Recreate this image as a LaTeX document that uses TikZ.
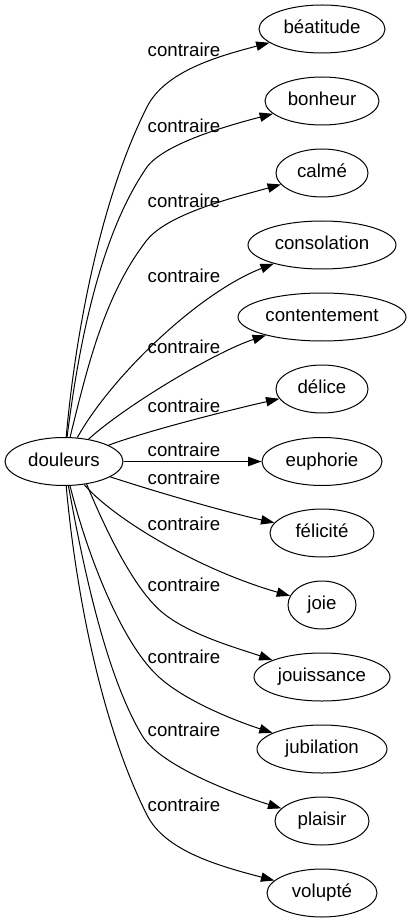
\documentclass[tikz,border=0pt]{standalone}
\usepackage{fontspec}
\setmainfont{Liberation Sans}
\usetikzlibrary{arrows.meta,shapes.geometric}
\tikzset{
  word/.style={draw=black, line width=0.75pt, ellipse, inner sep=0pt, minimum height=36pt,
    font=\fontsize{14pt}{16pt}\selectfont, text height=10.1pt, text depth=2.9pt},
  lbl/.style={inner sep=0pt, font=\fontsize{14pt}{16pt}\selectfont},
  edge/.style={draw=black, line width=0.75pt, -{Triangle[length=10pt,width=7pt]}}
}
\begin{document}
\begin{tikzpicture}[x=0.75pt, y=-0.75pt]
\useasboundingbox (0,0) rectangle (411,923);
\node[word, minimum width=88.5pt] (douleurs) at (64,461.5) {douleurs};
\node[word, minimum width=94.5pt] (beatitude) at (322,29) {béatitude};
\node[word, minimum width=85.5pt] (bonheur) at (322,101) {bonheur};
\node[word, minimum width=69pt] (calme) at (322,173) {calmé};
\node[word, minimum width=111pt] (consolation) at (322,245) {consolation};
\node[word, minimum width=126pt] (contentement) at (322,317) {contentement};
\node[word, minimum width=69pt] (delice) at (322,389) {délice};
\node[word, minimum width=90pt] (euphorie) at (322,461.5) {euphorie};
\node[word, minimum width=78pt] (felicite) at (322,533) {félicité};
\node[word, minimum width=51pt] (joie) at (322,605) {joie};
\node[word, minimum width=102pt] (jouissance) at (322,677) {jouissance};
\node[word, minimum width=97.5pt] (jubilation) at (322,749) {jubilation};
\node[word, minimum width=70.5pt] (plaisir) at (322,821) {plaisir};
\node[word, minimum width=82.5pt] (volupte) at (322,893) {volupté};

\draw[edge] (douleurs) .. controls (76,327) and (102,196) .. (147,107) .. controls (165,71) and (219,56) .. (beatitude);
\draw[edge] (douleurs) .. controls (79,343) and (100,235) .. (147,167) .. controls (165,143) and (230,125) .. (bonheur);
\draw[edge] (douleurs) .. controls (87,369) and (104,295) .. (147,240) .. controls (169,213) and (236,197) .. (calme);
\draw[edge] (douleurs) .. controls (111,377) and (198,293) .. (consolation);
\draw[edge] (douleurs) .. controls (125,406) and (215,352) .. (contentement);
\draw[edge] (douleurs) .. controls (150,430) and (230,410) .. (delice);
\draw[edge] (douleurs) -- (euphorie);
\draw[edge] (douleurs) .. controls (150,490) and (225,512) .. (felicite);
\draw[edge] (douleurs) .. controls (115,520) and (200,570) .. (joie);
\draw[edge] (douleurs.-45) .. controls (102,521) and (132,588) .. (163,613) .. controls (190,635) and (237,648) .. (jouissance);
\draw[edge] (douleurs) .. controls (87,554) and (122,645) .. (160,678) .. controls (186,701) and (233,720) .. (jubilation);
\draw[edge] (douleurs) .. controls (82,560) and (105,675) .. (143,737) .. controls (162,766) and (232,793) .. (plaisir);
\draw[edge] (douleurs) .. controls (76,595) and (102,726) .. (147,815) .. controls (165,851) and (219,866) .. (volupte);

\node[lbl] (l1) at (184,50) {contraire};
\node[lbl] (l2) at (184,126) {contraire};
\node[lbl] (l3) at (184,200.5) {contraire};
\node[lbl] (l4) at (184,275.5) {contraire};
\node[lbl] (l5) at (184,346.5) {contraire};
\node[lbl] (l6) at (184,405.5) {contraire};
\node[lbl] (l7) at (184,450) {contraire};
\node[lbl] (l8) at (184,478) {contraire};
\node[lbl] (l9) at (184,523.5) {contraire};
\node[lbl] (l10) at (184,585) {contraire};
\node[lbl] (l11) at (184,656.5) {contraire};
\node[lbl] (l12) at (184,730) {contraire};
\node[lbl] (l13) at (184,805) {contraire};
\end{tikzpicture}
\end{document}
